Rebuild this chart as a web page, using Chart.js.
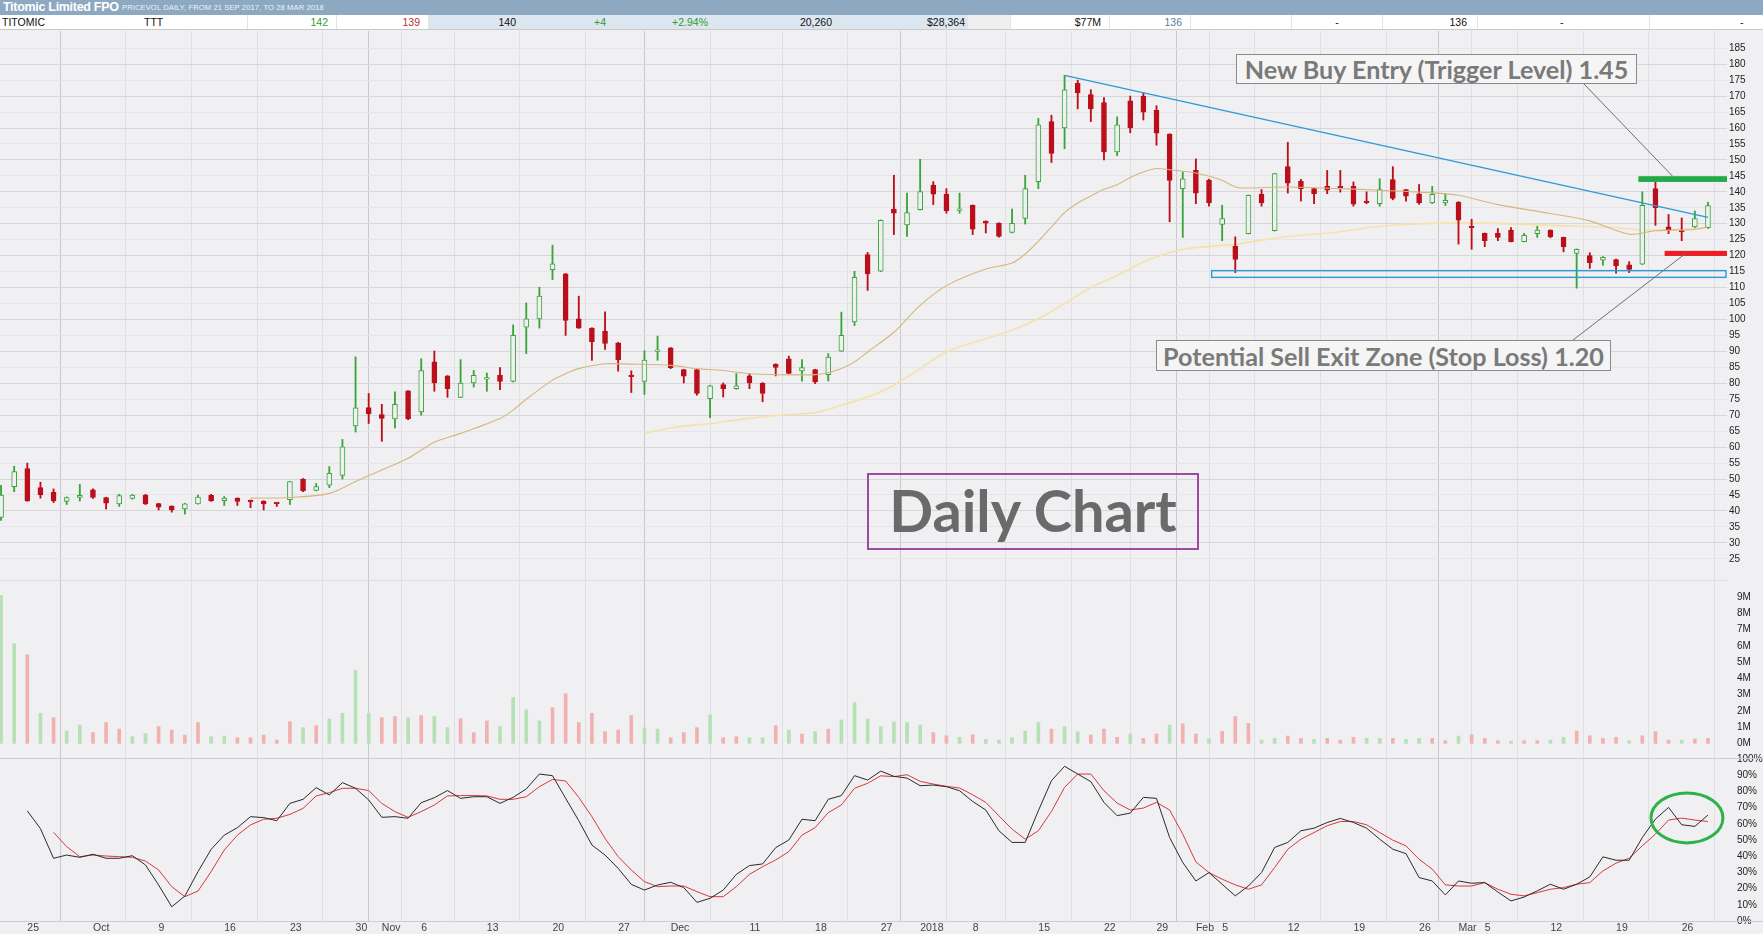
<!DOCTYPE html>
<html><head><meta charset="utf-8">
<script src="https://cdn.jsdelivr.net/npm/chart.js@4.4.1/dist/chart.umd.min.js"></script>
<style>
html,body{margin:0;padding:0;width:1763px;height:934px;overflow:hidden;background:#F0F0F2;font-family:"Liberation Sans",Arial,sans-serif;}
#tbar{position:absolute;left:0;top:0;width:1763px;height:15px;background:#8DA9C1;color:#fff;white-space:nowrap;}
#tbar b{position:absolute;left:3px;top:0px;font-size:12.5px;letter-spacing:-0.3px;}
#tbar span{position:absolute;left:122px;top:3px;font-size:7.6px;color:#EEF3F8;letter-spacing:0.1px;}
#row{position:absolute;left:0;top:15px;width:1763px;height:14px;background:#fff;border-bottom:1px solid #C9C9C9;}
.cell{position:absolute;top:0;height:14px;font-size:10.5px;line-height:14px;color:#111;box-sizing:border-box;border-right:1px solid #E4E4E4;white-space:nowrap;}
.r{text-align:right;padding-right:8px}.l{text-align:left;padding-left:2px}.c{text-align:center}
.bl{background:#DCE6F0}.gy{background:#EFEFEF}
.g{color:#2E9E2E}.rd{color:#C03030}.sl{color:#5F7A99}
canvas{position:absolute;left:0;top:30px;}
.note{position:absolute;box-sizing:border-box;display:flex;align-items:center;justify-content:center;font-family:Lato,"Open Sans",sans-serif;font-weight:700;white-space:nowrap;}
#buy{left:1236px;top:54px;width:401px;height:30px;border:1.5px solid #8A8A8A;background:#F5F5F5;color:#7A7A7A;}
#sell{left:1156px;top:340px;width:455px;height:31px;border:1.5px solid #8A8A8A;background:#F5F5F5;color:#7A7A7A;}
#daily{left:867px;top:473px;width:332px;height:77px;border:2px solid #9C4BA0;color:#6A6A6A;padding-bottom:4px;}
</style></head>
<body>
<div id="tbar"><b>Titomic Limited FPO</b><span>PRICEVOL DAILY, FROM 21 SEP 2017, TO 28 MAR 2018</span></div>
<div id="row">
<div class="cell l" style="left:0;width:142px;border-right:none">TITOMIC</div>
<div class="cell l" style="left:142px;width:106px">TTT</div>
<div class="cell r g" style="left:248px;width:89px">142</div>
<div class="cell r rd" style="left:337px;width:92px">139</div>
<div class="cell r bl" style="left:429px;width:96px">140</div>
<div class="cell r g bl" style="left:525px;width:90px">+4</div>
<div class="cell r g bl" style="left:615px;width:100px;padding-right:6px">+2.94%</div>
<div class="cell r bl" style="left:715px;width:126px">20,260</div>
<div class="cell r bl" style="left:841px;width:127px;padding-right:2px">$28,364</div>
<div class="cell gy" style="left:968px;width:43px"></div>
<div class="cell r" style="left:1011px;width:99px">$77M</div>
<div class="cell r sl" style="left:1110px;width:81px">136</div>
<div class="cell" style="left:1191px;width:101px"></div>
<div class="cell c" style="left:1292px;width:91px">-</div>
<div class="cell r" style="left:1383px;width:95px;padding-right:10px">136</div>
<div class="cell" style="left:1478px;width:172px;text-align:left;padding-left:82px">-</div>
<div class="cell" style="left:1650px;width:113px;text-align:left;padding-left:90px;border-right:none">-</div>
</div>
<canvas id="c" width="1763" height="904"></canvas>
<div class="note" id="buy">New Buy Entry (Trigger Level) 1.45</div>
<div class="note" id="sell">Potential Sell Exit Zone (Stop Loss) 1.20</div>
<div class="note" id="daily">Daily Chart</div>
<script>
// ---------- DATA (trading-day index 0 = 21 Sep 2017 ... 130 = 28 Mar 2018) ----------
const openP = [38,47.6,53.3,47.3,45.8,43,44.2,46.6,44.2,42.2,43.9,45,42.3,41.5,40.6,42.2,44.9,43.2,44,43.3,43.1,42.4,43.5,50,46.4,48.1,51.1,66.6,72.4,70.2,
68.8,77.6,71,86.7,82.3,75.6,80.1,81.3,82.5,80.6,97.6,100.2,115.6,114.3,100.2,97.3,96.3,92.7,82.4,80.6,90,91.1,84.3,84.3,75.2,79.6,78.3,82.3,80.1,86,
87.7,83.9,84.3,82.7,90.1,99.2,120.3,115.1,134.6,129.6,134.4,142.1,139.3,134.2,135.8,130.8,130.2,127.3,131.7,143.2,162,160,174,170.5,168,152.5,168.5,170,165.5,158.1,
141,146.7,143.6,129.8,123,126.9,139.2,127.8,147.9,143.3,141,141.7,141.7,141.7,136.8,136.3,143.8,140.7,139.4,136.5,136.5,136.8,129.3,127,127,128,124.4,126.9,128,125.7,
120.7,120,118.6,118.8,117.1,117.3,141,129,127.7,129,128.8];
const highP = [48,54,55,49,46.9,44.4,48.3,46.9,44.3,45.2,45.2,45.2,42.4,41.6,42.4,45,45.2,44.5,44.1,43.4,43.2,42.5,49.2,50.1,48.6,53.9,62.4,88.3,76.8,73.4,
77.3,77.7,87.7,90.1,82.4,87.4,84,83.2,84.9,98.3,105.2,110.1,123.3,114.4,107.3,97.4,102.4,92.8,83.9,90.2,94.8,91.2,84.4,84.4,79.4,80.1,83,83,80.2,86.1,
88.5,87.4,84.4,89.3,102.3,115.1,121,131.2,145.2,139.6,150.2,143.2,141,139.6,135.9,130.9,130.3,134.6,145.2,163,164,176.5,175,172,169.5,163.5,170,171,167,158.2,
146.2,150.3,144,135.8,125.9,139,140.7,145.8,155.5,143.9,141.1,146.7,146.7,143.1,140,144.1,147.9,140.8,142.3,141.7,139.4,136.9,131.4,127.1,128.5,128.8,127,129.2,128.1,125.8,
122.1,120.9,119.7,118.9,118.1,140,143.1,132.9,131.8,134,136.7];
const lowP = [37,46,43,44,42.6,42,43.1,43.9,40.6,41.4,43.7,42,40.3,39.6,39,42.1,43,41.7,41.7,41,40.3,41.4,42,46,46.3,47.3,50,64.7,67.4,61.8,
66,68.6,70,77.5,75.6,75.5,78.8,77.5,78,80.4,89.3,97.3,112.5,95,97.2,87.2,90.6,83.8,77.1,76.5,87.2,84.6,80.1,76.3,69.2,75.7,78.1,78.3,74.2,82.3,
83,80.7,79.9,80.7,90,98.1,109.1,115,126.6,126,134.3,136,133.3,133.3,126.6,127.1,125.8,127.1,129.9,141,149.2,153.5,166,162,150,151.3,158.5,162.5,154.6,130.6,
125.7,136.3,135.5,124.7,114.7,126.8,135.5,127.7,139.6,137.1,136.3,139.4,139.9,135.5,136.3,135.5,137.5,137.1,136.1,136.3,135.7,123.6,122,122.8,124.7,124.3,124.3,125.7,125.6,121.2,
109.8,116,117,114.5,114.7,117.2,129.5,126.9,124.7,128.8,128.5];
const closeP = [45,52.3,43.1,45,43.1,44.2,44.9,44.2,42.4,44.8,45,42.2,41.2,40.3,42.2,44.3,43.1,44,43,42.9,42.2,42.3,49.2,46.3,47.6,51.8,60.1,72.3,70.5,69,
73.4,68.8,84,80.1,78.3,80.1,82.5,81.5,80.6,95,100.2,107.3,117.4,99.7,97.3,93,92.5,87.3,82.1,87.3,90.3,84.9,82.2,76.8,79.2,78.3,79.2,80.1,76.8,85,
83.1,84.9,80.4,88.2,95,113.2,114.3,131.1,133.3,133.5,140.1,139.3,134.1,134.5,128.3,130.2,126,130.1,141,161,152,172,171,166,152.5,161,160,165,158.4,143.6,
144.1,139.6,136.5,131.6,118.8,138.9,136.5,145.7,142.7,141,139.4,140.5,141.2,136.1,136.6,140.7,137.9,138.6,136.5,139.2,137.3,131.1,128.8,124.7,125.7,124.4,126.4,128,125.9,122.8,
122,117.8,119.5,116.8,115.7,135.8,135,128,127.4,131.6,135.7];
// volume in millions, and up/down colouring
const volM = [9.1,6.13,5.45,1.85,1.58,0.76,1.13,0.66,1.28,0.88,0.41,0.6,1.03,0.82,0.51,1.28,0.41,0.45,0.35,0.35,0.51,0.2,1.34,0.97,1.09,1.5,1.85,4.49,1.85,1.58,
1.65,1.58,1.71,1.65,0.97,1.52,0.66,1.38,1.03,2.82,2.06,1.38,2.2,3.05,1.28,1.85,0.72,0.82,1.71,0.95,0.88,0.35,0.66,0.97,1.75,0.35,0.41,0.35,0.35,1.09,
0.82,0.58,0.72,0.88,1.44,2.51,1.5,1.03,1.32,1.28,1.13,0.66,0.47,0.37,0.53,0.25,0.2,0.35,0.76,1.28,0.88,1.03,0.7,0.51,0.88,0.37,0.58,0.31,0.58,1.13,
1.21,0.58,0.27,0.74,1.65,1.23,0.2,0.31,0.45,0.31,0.25,0.31,0.2,0.37,0.31,0.31,0.31,0.25,0.31,0.31,0.16,0.45,0.53,0.31,0.16,0.14,0.16,0.16,0.2,0.37,
0.76,0.47,0.31,0.37,0.16,0.47,0.72,0.2,0.2,0.27,0.31];
const volDir = 'uududuuddduudddduuddddduduuuudduduuddduuuuddddddduudddudduudududuuuuuuudduduuuuuduuddduddudduddduudduddduuduuddudddudduudddduddduddduuu';
const stochK = [null,null,68,57,38.7,40.7,39.3,41.2,38.7,38.7,40.3,34.6,22.2,8.8,15.4,30.5,44.2,53,57.6,64.4,63.8,61.9,72.6,75.1,82.3,77.8,85.4,81.9,74.7,64,
64.4,63.4,73,76.1,80.5,75.7,76.7,76.7,72.6,76.3,81.5,90.7,89.7,75.7,61.9,46.9,40.7,32.5,22.6,19.1,22.2,23.9,20.6,11.5,14,19.1,28.8,34.2,35.2,45.3,
50,62.8,61.9,75.1,77.4,89.7,87,92.5,89.3,88.2,83.5,83.9,82.9,80.4,73.8,68.5,55.7,48.5,48.5,68,86.6,95.5,90.7,86,73.2,65,66.6,76.3,75.7,51.5,
36.1,24.7,29.9,22.7,15.5,21.6,29.9,45.4,48.5,55.7,57.3,60.8,63.3,60.8,57.3,50.5,44.3,41.6,26.8,24.7,16.1,24.7,23.3,23.7,17.9,12.4,14.8,18.6,22.7,19.6,
22.7,27.2,39.6,37.5,37.5,51.5,62.9,70.1,59.4,58.4,65.4];
const stochD = [null,null,null,null,54.7,45.9,39.7,40.7,40.1,39.7,39.3,37,31.5,21.2,15,18.5,30.5,43.8,53,59.3,62.8,63.4,65.8,69.5,77.2,79.2,81.9,81.9,80.5,72.6,
67.5,64,67.5,71.6,77.2,77.4,77.4,77.2,75.1,75.1,76.7,82.9,87.4,86.4,76.3,64.4,51,39.7,31.5,24.3,21.2,21.6,21.6,18.1,15,15,21.2,28.8,33.5,37.7,
42.8,53,57.6,66.9,71.6,81.9,85,89.6,89.1,90.3,86.2,84.5,83.1,82.1,77.9,73.2,64.9,56.7,50.5,55.7,67.6,82.5,90.7,90.7,80.4,72.8,68.5,69.7,73.2,68.5,
53.6,36.5,29.9,25.8,22.3,19.6,22.3,33,44.3,50.5,54.6,58.8,61.4,61.4,59.4,54.6,49.9,46.4,38.1,32,22.3,21.6,21.6,23.7,19.6,16.5,15.5,17.5,19.6,20.6,
22.7,23.7,30.9,35.7,38.8,46.4,53.6,62.3,63.5,62.3,61.4];
// moving averages at sample days: [dayIndex, value]
const maShort = [[19,44],[22,44.2],[25,45.5],[27,49.2],[29,52.8],[31,56.5],[33,61.5],[35,64.3],[38,69],[39,71.6],[40,75],[42,81],[43,83],[44,84.6],[46,86.1],
[48,86],[51,85.6],[53,84.6],[55,84],[57,83],[59,82.7],[62,82.7],[63,83.3],[64,84.6],[65,86.7],[66,89.8],[68,96],[70,104.4],[72,110.6],[75,115.8],[77,117.7],
[78,120.5],[79,124.5],[80,129],[81,133.5],[82,136.5],[83,138.7],[84,140.8],[85,142.2],[86,144.5],[87,146.2],[88,147.3],[89,146.9],[91,145.9],[93,143.6],
[94,141.5],[95,141.2],[98,141.5],[102,141],[105,140.5],[109,139.7],[111,138.9],[114,136],[118,133.2],[121,130.9],[124,126.7],[126,127.8],[129,128.2],[130,129]];
const maLong = [[49,64.3],[51,66],[54,67.4],[57,69],[60,70.2],[62,70.8],[64,73.1],[66,75.7],[68,79.4],[70,84.6],[72,89.8],[75,94],[77,96.6],[79,100.2],
[81,105],[83,110],[85,113.8],[87,118],[88,119.6],[90,122],[94,123.6],[98,126],[102,127.5],[105,129.2],[109,130.1],[114,130.1],[118,129.5],[123,128.8],
[125,128],[129,128.5],[130,128.8]];
const trendLine = [[81,176.5],[130,132]];
const supportZone = {from:92.2, lo:113.2, hi:115.3};
const buyLevel = {from:124.7, lo:143.1, hi:144.9};
const stopLevel = {from:126.7, lo:119.9, hi:121.5};
const stochCircle = {x:128.4, y:63.6, rx:2.74, ry:15.4};
// axis ticks
const xTickIdx = [2,7,12,17,22,27,29,32,37,42,47,51,57,62,67,70,74,79,84,88,91,93,98,103,108,111,113,118,123,128];
const xTickLbl = ['25','Oct','9','16','23','30','Nov','6','13','20','27','Dec','11','18','27','2018','8','15','22','29','Feb','5','12','19','26','Mar','5','12','19','26'];
const monthIdx = [7,29,51,70,91,111];
const priceTicks = [25,30,35,40,45,50,55,60,65,70,75,80,85,90,95,100,105,110,115,120,125,130,135,140,145,150,155,160,165,170,175,180,185];
const volTicks = [0,1,2,3,4,5,6,7,8,9];
const stochTicks = [0,10,20,30,40,50,60,70,80,90,100];

// ---------- CHART ----------
const GREEN = '#3BA53B', RED = '#BA0F1A', BG = '#F0F0F2';
const N = openP.length;
const days = Array.from({length:N}, (_, i) => i);
const up = days.map(i => closeP[i] >= openP[i]);
const lblMap = {}; xTickIdx.forEach((v, k) => lblMap[v] = xTickLbl[k]);
const CANVAS_TOP = 30;

Chart.defaults.font.family = '"Liberation Sans", Arial, sans-serif';

const overlays = {
  id: 'overlays',
  beforeDraw(chart) {
    const {ctx, width, height} = chart;
    ctx.save(); ctx.fillStyle = BG; ctx.fillRect(0, 0, width, height); ctx.restore();
  },
  afterDatasetsDraw(chart) {
    const {ctx, chartArea: a, scales: {x, yP, yV, yS}} = chart;
    ctx.save();
    // panel separators
    ctx.strokeStyle = '#CDCDD1'; ctx.lineWidth = 1;
    [yS.top, a.bottom].forEach(y => { ctx.beginPath(); ctx.moveTo(0, Math.round(y) + 0.5); ctx.lineTo(chart.width, Math.round(y) + 0.5); ctx.stroke(); });
    ctx.strokeStyle = '#DEDEE2';
    ctx.beginPath(); ctx.moveTo(0, Math.round(yV.top) + 0.5); ctx.lineTo(a.right, Math.round(yV.top) + 0.5); ctx.stroke();
    // support zone rectangle
    const zx = x.getPixelForValue(supportZone.from);
    const zt = yP.getPixelForValue(supportZone.hi), zb = yP.getPixelForValue(supportZone.lo);
    ctx.strokeStyle = '#2B9AD8'; ctx.lineWidth = 1.4;
    ctx.strokeRect(zx, zt, a.right - zx - 1, zb - zt);
    // buy / stop bars
    const bar = (lv, col) => {
      const bx = x.getPixelForValue(lv.from), bt = yP.getPixelForValue(lv.hi), bb = yP.getPixelForValue(lv.lo);
      ctx.fillStyle = col; ctx.fillRect(bx, bt, a.right - bx, bb - bt);
    };
    bar(buyLevel, '#22AA48'); bar(stopLevel, '#EE1C24');
    // leader lines from the note boxes
    ctx.strokeStyle = '#6E6E6E'; ctx.lineWidth = 1;
    ctx.beginPath(); ctx.moveTo(1584, 84 - CANVAS_TOP);
    ctx.lineTo(x.getPixelForValue(127.3), yP.getPixelForValue(buyLevel.hi)); ctx.stroke();
    ctx.beginPath(); ctx.moveTo(1573, 340 - CANVAS_TOP);
    ctx.lineTo(x.getPixelForValue(128.4), yP.getPixelForValue(stopLevel.hi - 0.5)); ctx.stroke();
    // green circle on stochastic
    const cx = x.getPixelForValue(stochCircle.x), cy = yS.getPixelForValue(stochCircle.y);
    const rx = x.getPixelForValue(stochCircle.x + stochCircle.rx) - cx;
    const ry = cy - yS.getPixelForValue(stochCircle.y + stochCircle.ry);
    ctx.strokeStyle = '#2DB14B'; ctx.lineWidth = 3;
    ctx.beginPath(); ctx.ellipse(cx, cy, rx, ry, 0, 0, Math.PI * 2); ctx.stroke();
    ctx.restore();
  }
};

const sideAxis = (extra) => Object.assign({
  type: 'linear', position: 'right', stack: 'panels', offset: false,
  border: {display: false},
  ticks: {font: {size: 10}, color: '#222', padding: 2, autoSkip: false},
  afterFit: s => { s.width = 36; s.paddingTop = 0; s.paddingBottom = 0; }
}, extra);

new Chart(document.getElementById('c'), {
  type: 'bar',
  data: {
    datasets: [
      {type: 'line', label: 'Trend', data: trendLine.map(p => ({x: p[0], y: p[1]})), yAxisID: 'yP',
       borderColor: '#2B9AD8', borderWidth: 1.3, pointRadius: 0, order: 1},
      {type: 'line', label: 'MA short', data: maShort.map(p => ({x: p[0], y: p[1]})), yAxisID: 'yP',
       borderColor: '#D6B57E', borderWidth: 1.1, pointRadius: 0, tension: 0.3, order: 2},
      {type: 'line', label: 'MA long', data: maLong.map(p => ({x: p[0], y: p[1]})), yAxisID: 'yP',
       borderColor: '#F5E1AA', borderWidth: 1.6, pointRadius: 0, tension: 0.3, order: 6},
      {label: 'Bodies', data: days.map(i => ({x: i, y: [openP[i], closeP[i]]})), yAxisID: 'yP',
       backgroundColor: days.map(i => up[i] ? BG : RED), borderColor: days.map(i => up[i] ? GREEN : RED),
       borderWidth: 1, borderSkipped: false, barThickness: 5, minBarLength: 1.5, grouped: false, order: 3},
      {label: 'Wicks', data: days.map(i => ({x: i, y: [lowP[i], highP[i]]})), yAxisID: 'yP',
       backgroundColor: days.map(i => up[i] ? GREEN : RED), borderWidth: 0, barThickness: 1.2, grouped: false, order: 4},
      {label: 'Volume', data: days.map(i => ({x: i, y: volM[i]})), yAxisID: 'yV',
       backgroundColor: days.map(i => volDir[i] === 'u' ? '#B6E0B6' : '#F2B1B1'), borderWidth: 0, barThickness: 3, grouped: false, order: 5},
      {type: 'line', label: '%K', data: days.filter(i => stochK[i] != null).map(i => ({x: i, y: stochK[i]})), yAxisID: 'yS',
       borderColor: '#2A2A2A', borderWidth: 1, pointRadius: 0, order: 1},
      {type: 'line', label: '%D', data: days.filter(i => stochD[i] != null).map(i => ({x: i, y: stochD[i]})), yAxisID: 'yS',
       borderColor: '#D9383A', borderWidth: 1, pointRadius: 0, order: 1}
    ]
  },
  options: {
    responsive: false, animation: false, devicePixelRatio: 1,
    layout: {padding: {top: 1, left: 0, right: 0, bottom: 0}},
    plugins: {legend: {display: false}, tooltip: {enabled: false}},
    scales: {
      x: {type: 'linear', position: 'bottom', min: -0.08, max: 131.45, offset: false,
          border: {display: false},
          afterBuildTicks: s => { s.ticks = xTickIdx.map(v => ({value: v})); },
          afterFit: s => { s.height = 13; s.paddingLeft = 0; s.paddingRight = 0; },
          grid: {drawTicks: false, lineWidth: 1,
                 color: c => (c.tick && monthIdx.includes(c.tick.value)) ? '#C8C8CD' : '#E0E0E4'},
          ticks: {align: 'start', autoSkip: false, maxRotation: 0, padding: 1, font: {size: 10.5}, color: '#444',
                  callback: v => lblMap[v] ?? ''}},
      yP: sideAxis({min: 18.35, max: 190.4, stackWeight: 549,
          afterBuildTicks: s => { s.ticks = priceTicks.map(v => ({value: v})); },
          grid: {drawTicks: false, color: c => (c.tick && c.tick.value % 10 === 0) ? '#D7D7DB' : '#E5E5E9'}}),
      yV: sideAxis({min: -0.9, max: 10.05, stackWeight: 178,
          afterBuildTicks: s => { s.ticks = volTicks.map(v => ({value: v})); },
          grid: {display: false},
          ticks: {font: {size: 10}, color: '#222', padding: 2, autoSkip: false, callback: v => v + 'M'}}),
      yS: sideAxis({min: 0, max: 100.6, stackWeight: 163,
          afterBuildTicks: s => { s.ticks = stochTicks.map(v => ({value: v})); },
          grid: {display: false},
          ticks: {font: {size: 10}, color: '#222', padding: 2, autoSkip: false, callback: v => v + '%'}})
    }
  },
  plugins: [overlays]
});

// fit note texts to their boxes
const fitTargets = {buy: 386, sell: 441, daily: 289};
const mctx = document.createElement('canvas').getContext('2d');
const fit = () => {
  for (const id in fitTargets) {
    const el = document.getElementById(id);
    mctx.font = '700 40px Lato';
    const w = mctx.measureText(el.textContent).width;
    el.style.fontSize = (40 * fitTargets[id] / w).toFixed(2) + 'px';
  }
};
fit();
if (document.fonts && document.fonts.ready) document.fonts.ready.then(fit);
</script>
</body></html>
